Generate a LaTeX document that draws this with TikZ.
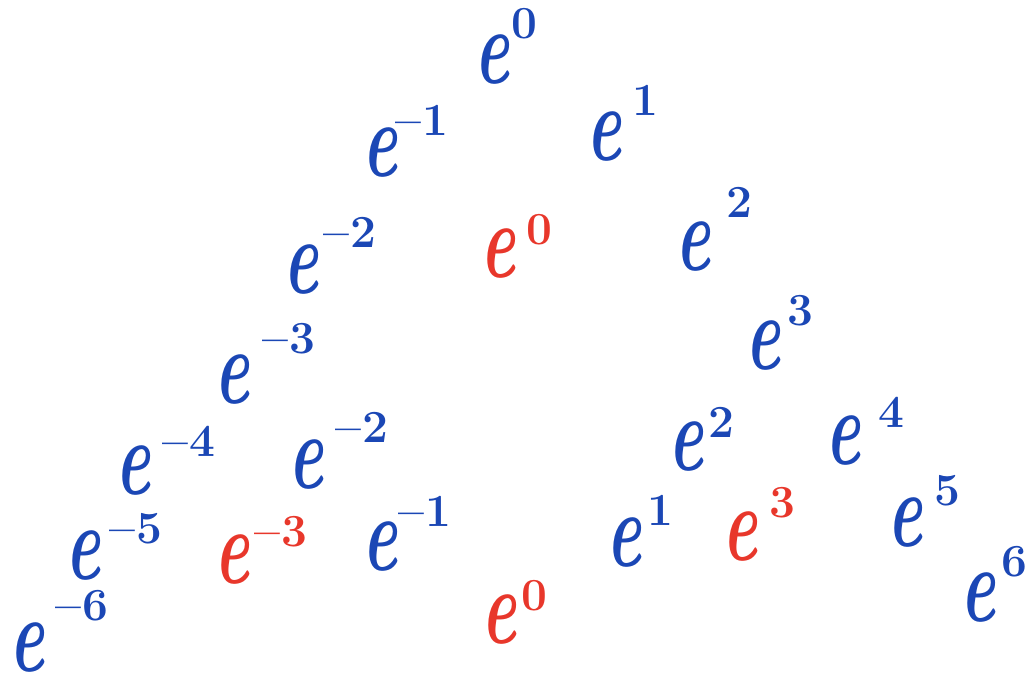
\documentclass[tikz,border=0pt]{standalone}
\usepackage{fontspec}
\definecolor{inkblue}{HTML}{1B47B5}
\definecolor{inkred}{HTML}{E8372B}
\tikzset{
  ebase/.style={inner sep=0pt, font=\fontsize{100}{100}\selectfont\bfseries\itshape},
  esup/.style={inner sep=0pt, font=\fontsize{46}{46}\selectfont\bfseries},
}
\newcommand{\eterm}[6]{%
  \node[ebase, text=#6] (#1) at (#2,#3) {\scalebox{0.66}[1.08]{e}};
  \node[esup, text=#6] (#1s) at (#4) {#5};
}
\begin{document}
\begin{tikzpicture}[x=1pt,y=-1pt]
\useasboundingbox (0,0) rectangle (1029,677);
\eterm{a0}{492}{60}{524,24}{0}{inkblue}
\eterm{am1}{380}{153}{422,120}{–\kern1pt1}{inkblue}
\eterm{a1}{604}{137}{645,100}{1}{inkblue}
\eterm{am2}{301}{270}{350,232}{–\kern1pt2}{inkblue}
\eterm{r0}{498}{254}{539,230}{0}{inkred}
\eterm{a2}{693}{247}{739,202}{2}{inkblue}
\eterm{am3}{232}{380}{289,339}{–\kern1pt3}{inkblue}
\eterm{a3}{763}{346}{800,311}{3}{inkblue}
\eterm{am4}{133}{471}{189,441}{–\kern1pt4}{inkblue}
\eterm{bm2}{306}{465}{362,427}{–\kern1pt2}{inkblue}
\eterm{b2}{686}{447}{721,422}{2}{inkblue}
\eterm{a4}{843}{441}{891,412}{4}{inkblue}
\eterm{am5}{83}{556}{136,529}{–\kern1pt5}{inkblue}
\eterm{rm3}{232}{560}{281,532}{–\kern1pt3}{inkred}
\eterm{bm1}{380}{547}{425,511}{–\kern1pt1}{inkblue}
\eterm{b1}{624}{543}{660,510}{1}{inkblue}
\eterm{r3}{740}{537}{782,503}{3}{inkred}
\eterm{a5}{905}{523}{947,491}{5}{inkblue}
\eterm{a6}{978}{598}{1014,562}{6}{inkblue}
\eterm{am6}{27}{648}{82,606}{–\kern1pt6}{inkblue}
\eterm{rb0}{499}{620}{534,596}{0}{inkred}
\end{tikzpicture}
\end{document}
